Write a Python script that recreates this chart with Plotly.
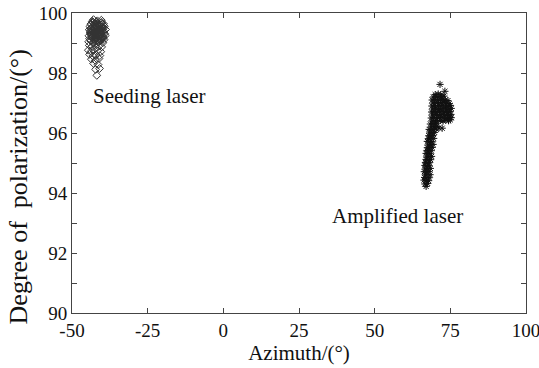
import plotly.graph_objects as go

# ---- data ----
seed_x = [-42.9, -41.6, -40.3,
          -43.8, -43.0, -42.2, -41.3, -40.5, -39.6,
          -44.1, -43.4, -42.6, -41.8, -40.9, -40.1, -39.3,
          -44.3, -43.6, -42.8, -42.0, -41.2, -40.4, -39.6, -38.9,
          -44.0, -43.2, -42.4, -41.6, -40.8, -40.0, -39.2,
          -44.4, -43.7, -42.9, -42.1, -41.3, -40.5, -39.7, -39.0,
          -44.2, -43.3, -42.5, -41.7, -40.9, -40.1, -39.4,
          -44.5, -43.8, -43.0, -42.2, -41.4, -40.6, -39.8,
          -44.3, -43.4, -42.6, -41.9, -41.0, -40.2,
          -44.6, -43.7, -42.8, -41.5, -40.5,
          -44.2, -43.1, -42.0, -40.8,
          -43.6, -42.3, -41.1,
          -42.9, -41.4,
          -42.2, -40.9,
          -41.8,
          -43.1, -42.4, -41.9, -41.0, -40.2, -39.5,
          -43.9, -42.7, -41.4, -40.6, -39.9,
          -43.5, -42.3, -41.5, -40.7, -39.8,
          -42.6, -41.2, -40.0, -43.0, -41.7, -40.4,
          -43.3, -42.1, -41.0, -39.9, -43.8, -42.7, -41.5, -40.3,
          -43.4, -42.4, -41.3, -40.2, -39.5, -43.9, -42.8, -41.8,
          -40.7, -43.2, -42.0, -40.9, -39.7, -42.5, -41.4, -40.5]
seed_y = [99.78, 99.74, 99.76,
          99.63, 99.68, 99.66, 99.62, 99.67, 99.64,
          99.55, 99.52, 99.57, 99.54, 99.58, 99.53, 99.56,
          99.44, 99.47, 99.42, 99.46, 99.43, 99.48, 99.41, 99.45,
          99.36, 99.33, 99.37, 99.32, 99.35, 99.38, 99.31,
          99.24, 99.27, 99.22, 99.26, 99.23, 99.28, 99.21, 99.25,
          99.14, 99.17, 99.12, 99.16, 99.13, 99.18, 99.11,
          99.04, 99.07, 99.02, 99.06, 99.03, 99.08, 99.01,
          98.92, 98.88, 98.94, 98.86, 98.91, 98.87,
          98.76, 98.72, 98.78, 98.74, 98.71,
          98.62, 98.57, 98.60, 98.58,
          98.46, 98.42, 98.48,
          98.32, 98.28,
          98.12, 98.15,
          97.92,
          99.70, 99.61, 99.71, 99.59, 99.69, 99.50,
          99.40, 99.50, 99.39, 99.30, 99.50,
          99.20, 99.30, 99.10, 99.40, 99.20,
          99.65, 99.45, 99.55, 99.35, 99.29, 99.19,
          99.72, 99.70, 99.60, 99.62, 99.49, 99.51, 99.48, 99.52,
          99.42, 99.38, 99.41, 99.43, 99.34, 99.32, 99.29, 99.27,
          99.31, 99.19, 99.21, 99.22, 99.15, 99.09, 99.08, 99.12]

amp_x = [67.0,
         66.6, 67.5,
         66.9, 67.8, 66.3,
         67.2, 66.5, 68.0,
         66.8, 67.6, 68.3,
         67.1, 66.4, 67.9,
         66.7, 67.5, 68.4,
         67.0, 67.9, 66.6,
         67.3, 68.1, 66.8,
         67.6, 68.5, 67.0,
         67.2, 68.0, 68.8,
         67.5, 68.3, 67.0,
         67.8, 68.7, 67.3,
         68.1, 67.4, 69.0,
         67.7, 68.5, 69.3,
         68.0, 68.9, 67.4,
         68.3, 67.8, 69.5,
         68.6, 67.9, 69.2,
         68.2, 69.0, 69.8,
         68.5, 69.4, 68.0, 70.3,
         71.2, 72.3,
         68.8, 69.7, 70.5,
         68.4, 69.2, 70.1,
         69.0, 69.9, 70.8, 71.7, 72.6, 73.5, 74.4, 75.0,
         68.7, 69.5, 70.4, 71.3, 72.2, 73.1, 74.0, 74.8, 75.3,
         69.1, 70.0, 70.9, 71.8, 72.7, 73.6, 74.5, 75.2,
         68.8, 69.6, 70.5, 71.4, 72.3, 73.2, 74.1, 74.9,
         69.2, 70.1, 71.0, 71.9, 72.8, 73.7, 74.6, 75.3,
         68.9, 69.8, 70.7, 71.6, 72.5, 73.4, 74.3, 75.0,
         69.3, 70.2, 71.1, 72.0, 72.9, 73.8, 74.6,
         69.0, 69.9, 70.8, 71.7, 72.6, 73.3, 74.2,
         69.4, 70.3, 71.2, 72.1, 72.9,
         70.0, 71.0, 71.8,
         73.2,
         71.6]
amp_y = [94.22,
         94.30, 94.32,
         94.40, 94.41, 94.43,
         94.50, 94.52, 94.51,
         94.60, 94.62, 94.61,
         94.70, 94.71, 94.72,
         94.80, 94.81, 94.82,
         94.90, 94.91, 94.92,
         95.00, 95.01, 95.02,
         95.10, 95.11, 95.12,
         95.20, 95.21, 95.22,
         95.30, 95.31, 95.32,
         95.40, 95.41, 95.42,
         95.50, 95.51, 95.52,
         95.60, 95.61, 95.62,
         95.70, 95.71, 95.72,
         95.80, 95.81, 95.82,
         95.90, 95.91, 95.92,
         96.00, 96.01, 96.02,
         96.10, 96.11, 96.12, 96.13,
         96.17, 96.16,
         96.20, 96.21, 96.22,
         96.30, 96.31, 96.32,
         96.40, 96.41, 96.39, 96.42, 96.40, 96.43, 96.41, 96.44,
         96.50, 96.52, 96.49, 96.51, 96.53, 96.50, 96.48, 96.52, 96.51,
         96.60, 96.62, 96.59, 96.61, 96.63, 96.60, 96.58, 96.62,
         96.70, 96.72, 96.69, 96.71, 96.73, 96.70, 96.68, 96.72,
         96.80, 96.82, 96.79, 96.81, 96.83, 96.80, 96.78, 96.82,
         96.90, 96.92, 96.89, 96.91, 96.93, 96.90, 96.88, 96.92,
         97.00, 97.02, 96.99, 97.01, 97.03, 97.00, 96.98,
         97.10, 97.12, 97.09, 97.11, 97.13, 97.10, 97.08,
         97.20, 97.22, 97.19, 97.21, 97.23,
         97.28, 97.30, 97.27,
         97.39,
         97.62]

x_ticks = [-50, -25, 0, 25, 50, 75, 100]
y_ticks = [90, 92, 94, 96, 98, 100]

FONT = "Liberation Serif"

fig = go.Figure()
fig.add_trace(go.Scatter(
    x=seed_x, y=seed_y, mode="markers", name="Seeding laser",
    marker=dict(symbol="diamond-open", size=6, color="#333333",
                line=dict(width=1, color="#333333")),
    showlegend=False))
fig.add_trace(go.Scatter(
    x=amp_x, y=amp_y, mode="markers", name="Amplified laser",
    marker=dict(symbol="asterisk-open", size=6, color="#111111",
                line=dict(width=1, color="#111111")),
    showlegend=False))

fig.add_annotation(x=-43.6, y=97.25, xref="x", yref="y", text="Seeding laser",
                   showarrow=False, xanchor="left", yanchor="middle",
                   font=dict(family=FONT, size=21, color="#111"))
fig.add_annotation(x=35.4, y=93.22, xref="x", yref="y", text="Amplified laser",
                   showarrow=False, xanchor="left", yanchor="middle",
                   font=dict(family=FONT, size=21, color="#111"))
fig.add_annotation(x=-0.118, y=0.42, xref="paper", yref="paper",
                   text="Degree of\u00a0\u00a0polarization/(°)", textangle=-90,
                   showarrow=False, xanchor="center", yanchor="middle",
                   font=dict(family=FONT, size=26, color="#111"))

axis_common = dict(showline=True, linecolor="#444", linewidth=1, mirror="ticks",
                   ticks="inside", ticklen=5, tickcolor="#444", showgrid=False,
                   zeroline=False, ticklabeloverflow="allow", automargin=False,
                   tickfont=dict(family=FONT, size=19, color="#111"))

fig.update_xaxes(range=[-50, 100], tickvals=x_ticks,
                 ticktext=[str(v) for v in x_ticks],
                 title=dict(text="Azimuth/(°)", font=dict(family=FONT, size=21, color="#111"),
                            standoff=4),
                 **axis_common)
fig.update_yaxes(range=[90, 100], tickvals=y_ticks,
                 ticktext=[str(v) for v in y_ticks],
                 minor=dict(tickvals=[91, 93, 95, 97, 99], ticks="inside", ticklen=5,
                            tickcolor="#444"),
                 **axis_common)

fig.update_layout(width=539, height=368, margin=dict(l=72, r=13, t=13, b=55),
                  paper_bgcolor="white", plot_bgcolor="white")

fig.write_html("out.html")
